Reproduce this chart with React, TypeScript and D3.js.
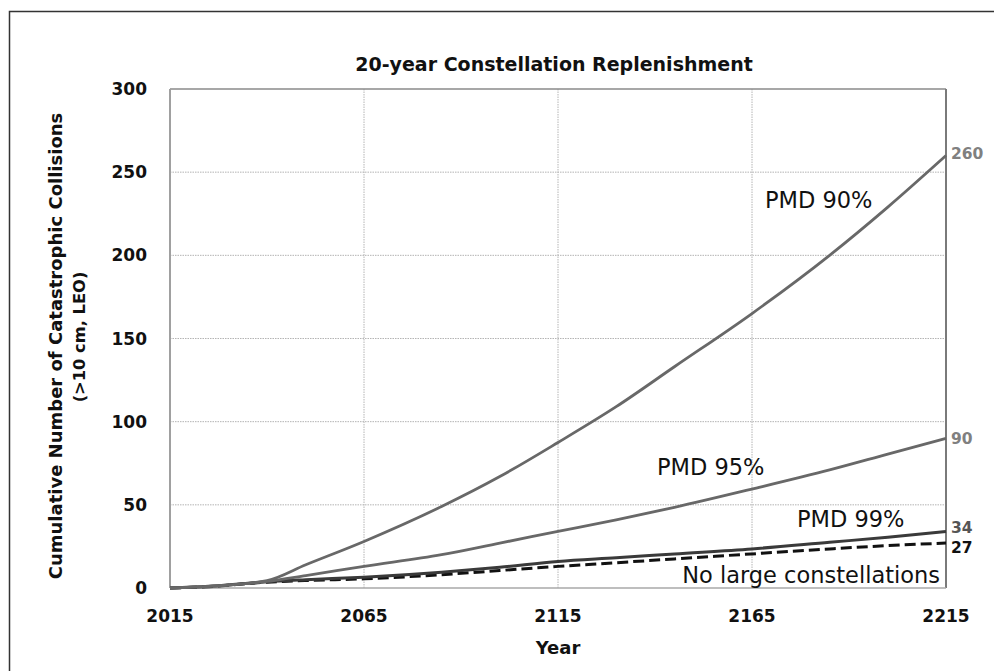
import React from 'react';
import * as d3 from 'd3';

const years = [2015, 2025, 2040, 2050, 2065, 2085, 2100, 2115, 2130, 2145, 2165, 2185, 2200, 2215];
const pmd90 = [0, 1, 4.5, 14, 28, 49, 67, 87.5, 109, 133, 165, 200, 229, 260];
const pmd95 = [0, 1, 4, 7.5, 13, 20, 27, 34, 41, 48.5, 59.5, 71, 80.5, 90];
const pmd99 = [0, 1, 3.8, 5, 6.5, 9.5, 12.5, 16, 18.2, 20.5, 23.5, 27.5, 30.5, 34];
const noLarge = [0, 0.8, 3.5, 4.5, 5.5, 8, 10.5, 13, 15.2, 17.5, 20.5, 23.5, 25.5, 27];

const xTicks = [2015, 2065, 2115, 2165, 2215];
const yTicks = [0, 50, 100, 150, 200, 250, 300];

const endLabels = ['260', '90', '34', '27'];

export default function App() {
  const left = 170, right = 946, top = 89, bottom = 588;
  const x = d3.scaleLinear().domain([2015, 2215]).range([left, right]);
  const y = d3.scaleLinear().domain([0, 300]).range([bottom, top]);
  const mk = (vals: number[]) =>
    d3.line<number>().x((_, i) => x(years[i])).y((d) => y(d)).curve(d3.curveMonotoneX)(vals) || '';

  const bold = { fontFamily: 'DejaVu Sans', fontWeight: 700 } as const;
  const reg = { fontFamily: 'DejaVu Sans', fontWeight: 400 } as const;

  return (
    <svg width={994} height={671} style={{ position: 'absolute', left: 0, top: 0, background: '#fff' }}>
      <rect x={9.5} y={11.5} width={1000} height={700} fill="#fff" stroke="#333" strokeWidth={1.5} />
      {/* gridlines */}
      {yTicks.slice(1, -1).map((t) => (
        <line key={'gy' + t} x1={left} x2={right} y1={y(t)} y2={y(t)} stroke="#b4b4b4" strokeWidth={1} strokeDasharray="1.5,1" />
      ))}
      {xTicks.slice(1, -1).map((t) => (
        <line key={'gx' + t} x1={x(t)} x2={x(t)} y1={top} y2={bottom} stroke="#b4b4b4" strokeWidth={1} strokeDasharray="1.5,1" />
      ))}
      {/* frame */}
      <line x1={left} x2={right} y1={top} y2={top} stroke="#8a8a8a" strokeWidth={1.5} />
      <line x1={left} x2={left} y1={top} y2={bottom} stroke="#a0a0a0" strokeWidth={2} />
      <line x1={right} x2={right} y1={top} y2={bottom} stroke="#7a7a7a" strokeWidth={2} />
      <line x1={left} x2={right} y1={bottom} y2={bottom} stroke="#a8a8a8" strokeWidth={1.5} />

      {/* series */}
      <path d={mk(noLarge)} fill="none" stroke="#111" strokeWidth={3} strokeDasharray="11,5" />
      <path d={mk(pmd99)} fill="none" stroke="#3a3a3a" strokeWidth={3} />
      <path d={mk(pmd95)} fill="none" stroke="#686868" strokeWidth={2.8} />
      <path d={mk(pmd90)} fill="none" stroke="#686868" strokeWidth={2.8} />

      {/* y ticks */}
      {yTicks.map((t) => (
        <text key={'yt' + t} x={147} y={y(t)} dy="0.36em" textAnchor="end" fontSize={17} fill="#111" style={bold}>
          {t}
        </text>
      ))}
      {/* x ticks */}
      {xTicks.map((t) => (
        <text key={'xt' + t} x={x(t)} y={622} textAnchor="middle" fontSize={17} fill="#111" style={bold}>
          {t}
        </text>
      ))}

      {/* titles */}
      <text x={554} y={71} textAnchor="middle" fontSize={19} fill="#111" style={bold}>
        20-year Constellation Replenishment
      </text>
      <text x={558} y={654} textAnchor="middle" fontSize={18} fill="#111" style={bold}>
        Year
      </text>
      <text transform="translate(61.5,346) rotate(-90)" textAnchor="middle" fontSize={18} fill="#111" style={bold}>
        Cumulative Number of Catastrophic Collisions
      </text>
      <text transform="translate(84.5,337) rotate(-90)" textAnchor="middle" fontSize={16.3} fill="#111" style={bold}>
        (&gt;10 cm, LEO)
      </text>

      {/* annotations */}
      <text x={765} y={208} fontSize={22.5} fill="#111" style={reg}>PMD 90%</text>
      <text x={657} y={475} fontSize={22.5} fill="#111" style={reg}>PMD 95%</text>
      <text x={797} y={527} fontSize={22.5} fill="#111" style={reg}>PMD 99%</text>
      <text x={940} y={583} textAnchor="end" fontSize={22.5} fill="#111" style={reg}>No large constellations</text>

      {/* end values */}
      <text x={951} y={y(pmd90[pmd90.length - 1]) - 2} dy="0.36em" fontSize={15.5} fill="#808080" style={bold}>{endLabels[0]}</text>
      <text x={951} y={y(pmd95[pmd95.length - 1])} dy="0.36em" fontSize={15.5} fill="#808080" style={bold}>{endLabels[1]}</text>
      <text x={951} y={y(pmd99[pmd99.length - 1]) - 4} dy="0.36em" fontSize={15.5} fill="#555" style={bold}>{endLabels[2]}</text>
      <text x={951} y={y(noLarge[noLarge.length - 1]) + 4} dy="0.36em" fontSize={15.5} fill="#111" style={bold}>{endLabels[3]}</text>
    </svg>
  );
}
